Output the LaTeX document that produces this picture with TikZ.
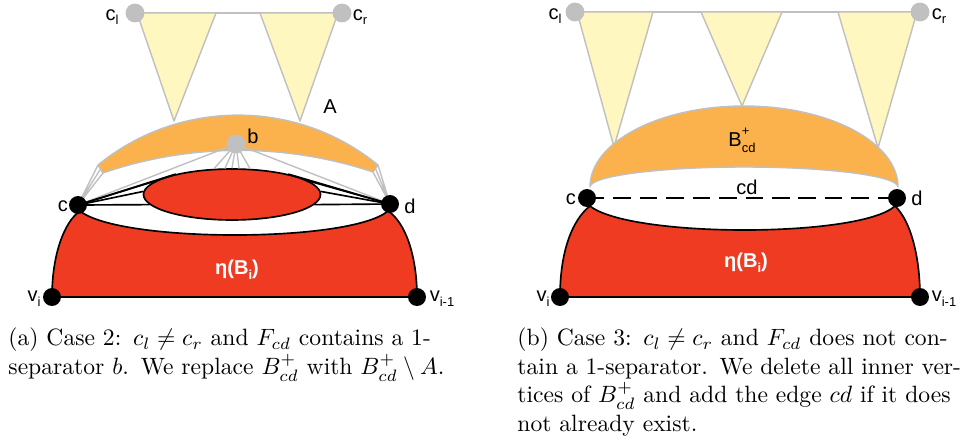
\documentclass[tikz,border=0pt]{standalone}
\usepackage{fontspec}
\newfontfamily\arial{Liberation Sans}
\usetikzlibrary{shapes.geometric}
\definecolor{cgray}{RGB}{192,192,192}
\definecolor{corange}{RGB}{251,177,76}
\definecolor{cyellow}{RGB}{255,246,192}
\definecolor{cred}{RGB}{238,59,34}
\newcommand{\lsub}[1]{\raisebox{-0.45ex}{\fontsize{5.5}{6}\selectfont #1}}
\newcommand{\lsupsub}[2]{\makebox[0pt][l]{\raisebox{1.1ex}{\fontsize{5.5}{6}\selectfont #1}}\raisebox{-0.5ex}{\fontsize{5.5}{6}\selectfont #2}}
\newcommand{\fixmath}{\thickmuskip=5mu\relax\medmuskip=4mu\relax}
\begin{document}
\begin{tikzpicture}[x=0.4237pt,y=-0.4237pt,
  lab/.style={font=\arial\fontsize{8.5}{10}\selectfont, inner sep=0pt},
  gdot/.style={circle, fill=cgray, minimum size=8pt, inner sep=0pt},
  bdot/.style={circle, fill=black, minimum size=7.6pt, inner sep=0pt},
  tri/.style={fill=cyellow, draw=cgray, line width=0.6pt, line join=round},
  gline/.style={draw=cgray, line width=0.6pt},
  bline/.style={draw=black, line width=0.7pt},
  redreg/.style={fill=cred, draw=black, line width=0.7pt, line join=round},
  captxt/.style={text width=193pt, align=left, inner sep=0pt, anchor=north west, font=\fontsize{10}{12.07}\selectfont}
]
\useasboundingbox (0,0) rectangle (976,442);

% ================= (a) =================
\coordinate (cl1) at (135,13);
\coordinate (cr1) at (342,13);
\coordinate (b1) at (236,144);
\coordinate (c1) at (78,205);
\coordinate (d1) at (390,204);
\coordinate (vi1) at (52,297);
\coordinate (vj1) at (417,297);
\coordinate (bl1) at (98,165);
\coordinate (bl2) at (100.5,169);
\coordinate (bl3) at (103,173);
\coordinate (br1) at (378,165);
\coordinate (br2) at (375.5,168.5);
\coordinate (br3) at (373,172);

\draw[gline] (cl1) -- (cr1);
\path[tri] (137,13) -- (216,13) -- (174,121) -- cycle;
\path[tri] (260,13) -- (338,13) -- (300,121) -- cycle;

\path[fill=corange, draw=cgray, line width=0.6pt, line join=round]
  (bl1) .. controls (179,98.5) and (297,98.5) .. (br1) -- (br3)
  .. controls (286,143) and (190,143) .. (bl3) -- cycle;

\node[ellipse, fill=cred, draw=black, line width=0.7pt, minimum width=75pt, minimum height=21.6pt, inner sep=0pt] (ell) at (232,194.5) {};

\draw[gline] (c1) -- (bl1) (c1) -- (bl2) (c1) -- (bl3);
\draw[gline] (d1) -- (br1) (d1) -- (br2) (d1) -- (br3);
\draw[gline] (b1) -- (c1) (b1) -- (d1);
\foreach \a in {125,105,90,75,55} \draw[gline] (b1) -- (ell.\a);

\path[redreg] (80,211) .. controls (120,243) and (350,243) .. (388,211)
  .. controls (405,222) and (417,255) .. (vj1) -- (vi1)
  .. controls (52,255) and (64,222) .. (80,211) -- cycle;

\foreach \a in {160,170,178,187.4} \draw[bline] (c1) -- (ell.\a);
\foreach \a in {20,10,2,-7.4} \draw[bline] (d1) -- (ell.\a);

\node[gdot] at (cl1) {};
\node[gdot] at (cr1) {};
\node[gdot] at (b1) {};
\node[bdot] at (c1) {};
\node[bdot] at (d1) {};
\node[bdot] at (vi1) {};
\node[bdot] at (vj1) {};

\node[lab] at (112,17) {c\lsub{l}};
\node[lab] at (360,17) {c\lsub{r}};
\node[lab] at (330,107) {A};
\node[lab] at (253,136) {b};
\node[lab] at (63,206) {c};
\node[lab] at (410,206) {d};
\node[lab] at (34,299) {v\lsub{i}};
\node[lab] at (442,299) {v\lsub{i-1}};
\node[lab, text=white, font=\arial\bfseries\fontsize{8.5}{10}\selectfont] at (237,270) {η(B\lsub{i})};

% ================= (b) =================
\coordinate (cl2) at (575,12);
\coordinate (cr2) at (920,12);
\coordinate (c2) at (587,198);
\coordinate (d2) at (897,198);
\coordinate (vi2) at (560,297);
\coordinate (vj2) at (920,297);

\draw[gline] (cl2) -- (cr2);
\path[tri] (577,12) -- (653,12) -- (614,147) -- cycle;
\path[tri] (701,12) -- (782,12) -- (742,106) -- cycle;
\path[tri] (838,12) -- (917,12) -- (878,148) -- cycle;

\path[fill=corange, draw=cgray, line width=0.6pt, line join=round]
  (590,187) .. controls (590,142.3) and (659,106) .. (744,106)
  .. controls (829,106) and (898,142.3) .. (898,187)
  .. controls (898,176) and (829,167) .. (744,167)
  .. controls (659,167) and (590,176) .. (590,187) -- cycle;

\path[redreg] (590,206) .. controls (630,238) and (860,238) .. (895,206)
  .. controls (910,220) and (920,255) .. (vj2) -- (vi2)
  .. controls (560,252) and (572,220) .. (590,206) -- cycle;

\draw[line width=0.7pt, dash pattern=on 7.4pt off 3.8pt] (c2) -- (d2);

\node[gdot] at (cl2) {};
\node[gdot] at (cr2) {};
\node[bdot] at (c2) {};
\node[bdot] at (d2) {};
\node[bdot] at (vi2) {};
\node[bdot] at (vj2) {};

\node[lab] at (555,16) {c\lsub{l}};
\node[lab] at (939,16) {c\lsub{r}};
\node[lab] at (742,140) {B\lsupsub{+}{cd}};
\node[lab] at (747,187) {cd};
\node[lab] at (571,199) {c};
\node[lab] at (917,198) {d};
\node[lab] at (543,299) {v\lsub{i}};
\node[lab] at (944,299) {v\lsub{i-1}};
\node[lab, text=white, font=\arial\bfseries\fontsize{8.5}{10}\selectfont] at (746,263) {η(B\lsub{i})};

% ================= captions =================
\node[captxt] (capa) at (8,327.5) {\fixmath\makebox[192pt][s]{(a) Case 2: $c_l \neq c_r$ and $F_{cd}$ contains a 1-}\\
separator $b$. We replace $B^+_{cd}$ with $B^+_{cd} \setminus A$.};
\node[captxt] (capb) at (517,327.5) {\fixmath\makebox[192pt][s]{(b) Case 3: $c_l \neq c_r$ and $F_{cd}$ does not con-}\\
\makebox[192pt][s]{tain a 1-separator. We delete all inner ver-}\\
\makebox[192pt][s]{tices of $B^+_{cd}$ and add the edge $cd$ if it does}\\
not already exist.};
\end{tikzpicture}
\end{document}
